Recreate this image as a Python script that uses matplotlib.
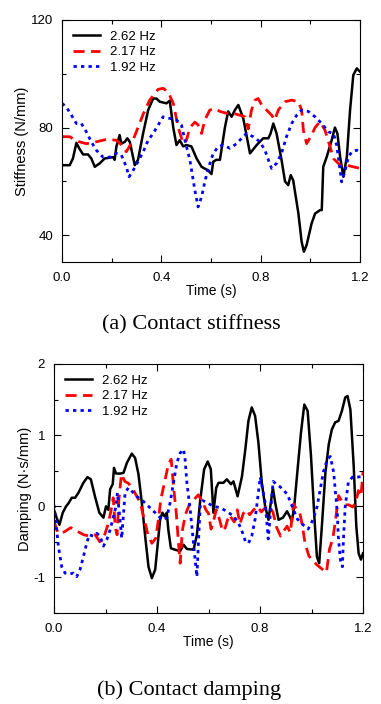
import numpy as np
import matplotlib
matplotlib.use('Agg')
import matplotlib.pyplot as plt
from matplotlib.ticker import MultipleLocator

plt.rcParams['font.family'] = ['Liberation Sans', 'DejaVu Sans']

# (a) contact stiffness, N/mm
stiff_t_262 = [0.000, 0.031, 0.044, 0.058, 0.071, 0.085, 0.105, 0.118, 0.132, 0.152, 0.172, 0.206, 0.212,
               0.219, 0.232, 0.239, 0.253, 0.263, 0.273, 0.293, 0.306, 0.327, 0.347, 0.367, 0.380, 0.394,
               0.421, 0.434, 0.448, 0.461, 0.474, 0.488, 0.501, 0.521, 0.542, 0.562, 0.589, 0.602, 0.609,
               0.622, 0.636, 0.656, 0.669, 0.683, 0.696, 0.710, 0.730, 0.757, 0.784, 0.810, 0.831, 0.840,
               0.851, 0.864, 0.884, 0.898, 0.911, 0.921, 0.931, 0.952, 0.965, 0.974, 0.985, 1.005, 1.019,
               1.039, 1.046, 1.052, 1.066, 1.086, 1.099, 1.109, 1.120, 1.133, 1.147, 1.160, 1.173, 1.187, 1.200]
stiff_262 = [66, 66, 68.5, 74.3, 72, 70, 70, 68.5, 65.4, 66.7, 68.5, 69, 68,
             72.9, 77.2, 74, 74.7, 76, 74.7, 66, 68, 78, 86.5, 90.8, 90.8, 89.6,
             89, 90, 80, 73.5, 75.3, 73, 73.5, 73, 68.5, 65.4, 64, 62.7, 67.3,
             68, 68, 80, 86, 84, 86.5, 88.4, 83.4, 70.4, 73.5, 76, 76, 77.8,
             81.5, 77.8, 68, 60, 58.6, 62.3, 60.4, 48, 37.5, 33.8, 36.3, 44.3, 48,
             49.3, 49.3, 65.4, 69.1, 75.3, 80, 77.8, 69.1, 61.7, 69.1, 86.5, 99.5, 102, 100.8]

stiff_t_217 = [0.000, 0.031, 0.058, 0.098, 0.138, 0.179, 0.219, 0.246, 0.259, 0.286, 0.306, 0.327, 0.353,
               0.387, 0.407, 0.427, 0.448, 0.468, 0.488, 0.501, 0.515, 0.535, 0.548, 0.562, 0.575, 0.595,
               0.616, 0.636, 0.663, 0.689, 0.716, 0.737, 0.750, 0.763, 0.777, 0.790, 0.804, 0.824, 0.844,
               0.857, 0.871, 0.898, 0.925, 0.952, 0.965, 0.972, 0.985, 1.005, 1.019, 1.039, 1.059, 1.079,
               1.093, 1.120, 1.147, 1.173, 1.200]
stiff_217 = [76.6, 76.6, 75, 74, 74.7, 75.6, 75.3, 73, 71, 75.3, 80, 85, 90.2,
             94.2, 94.6, 93.3, 89, 80.1, 74, 75.3, 80, 82, 81, 77.8, 82.8, 86.5,
             87.1, 86, 85.3, 85.3, 84.6, 84, 79.5, 86.5, 90.2, 90.8, 88.4, 86.5, 84.6,
             82.8, 86.5, 89.6, 90.2, 89.6, 86.5, 79, 74, 77.2, 80, 82.2, 79, 73,
             68.5, 66, 66, 65.4, 64.8]

stiff_t_192 = [0.000, 0.017, 0.038, 0.058, 0.078, 0.098, 0.118, 0.138, 0.165, 0.192, 0.219, 0.239, 0.259,
               0.270, 0.286, 0.306, 0.327, 0.347, 0.367, 0.387, 0.407, 0.434, 0.461, 0.481, 0.495, 0.515,
               0.535, 0.548, 0.562, 0.575, 0.589, 0.609, 0.629, 0.649, 0.676, 0.703, 0.723, 0.743, 0.770,
               0.797, 0.817, 0.831, 0.844, 0.864, 0.884, 0.904, 0.925, 0.945, 0.965, 0.992, 1.019, 1.046,
               1.073, 1.093, 1.106, 1.120, 1.126, 1.140, 1.153, 1.167, 1.187, 1.200]
stiff_192 = [89, 87.7, 84.6, 81.5, 81.5, 78.4, 74.7, 71.6, 69, 69, 70.4, 69.8, 65.4,
             61.7, 64, 67.3, 71, 75.3, 77.8, 80.9, 84, 83.4, 82.8, 80.9, 75.3, 67.9,
             56.7, 50.5, 54.2, 59.8, 64.8, 70.4, 72.9, 73.5, 72.3, 74, 76, 77.8, 76.6,
             74.7, 71.6, 68, 64.8, 66.7, 70.4, 76.6, 81.5, 84.6, 86.5, 86, 84, 81.5,
             78.4, 77.8, 73.5, 64, 59.8, 64, 69, 71, 71.6, 71]

# (b) contact damping, N*s/mm
damp_t_262 = [0.000, 0.010, 0.021, 0.034, 0.047, 0.056, 0.069, 0.082, 0.095, 0.114, 0.130, 0.143, 0.159,
              0.176, 0.192, 0.202, 0.211, 0.218, 0.228, 0.233, 0.241, 0.257, 0.270, 0.283, 0.302, 0.315,
              0.328, 0.341, 0.354, 0.367, 0.380, 0.393, 0.402, 0.412, 0.421, 0.429, 0.438, 0.444, 0.454,
              0.470, 0.490, 0.503, 0.516, 0.542, 0.555, 0.568, 0.583, 0.597, 0.609, 0.619, 0.630, 0.639,
              0.658, 0.671, 0.687, 0.697, 0.713, 0.730, 0.743, 0.755, 0.768, 0.781, 0.794, 0.807, 0.820,
              0.833, 0.842, 0.850, 0.859, 0.872, 0.889, 0.905, 0.915, 0.924, 0.933, 0.946, 0.959, 0.972,
              0.985, 0.998, 1.011, 1.021, 1.030, 1.041, 1.054, 1.067, 1.079, 1.092, 1.105, 1.118, 1.131,
              1.140, 1.151, 1.164, 1.174, 1.183, 1.192, 1.200]
damp_262 = [-0.05, -0.16, -0.26, -0.09, 0.0, 0.04, 0.12, 0.12, 0.19, 0.33, 0.41, 0.38, 0.14,
            -0.09, -0.16, 0.0, -0.05, 0.24, 0.31, 0.54, 0.46, 0.46, 0.47, 0.61, 0.74, 0.68,
            0.45, 0.05, -0.42, -0.85, -1.01, -0.89, -0.56, -0.19, -0.09, -0.14, -0.09, -0.33, -0.59,
            -0.61, -0.63, -0.54, -0.60, -0.61, -0.40, 0.09, 0.52, 0.63, 0.52, -0.09, 0.26, 0.33,
            0.33, 0.38, 0.31, 0.35, 0.14, 0.42, 0.80, 1.20, 1.39, 1.27, 0.89, 0.33, 0.0,
            -0.19, 0.05, 0.26, 0.05, -0.19, -0.16, -0.07, -0.14, -0.21, 0.0, 0.52, 1.03, 1.43,
            1.34, 0.71, -0.14, -0.71, -0.80, -0.24, 0.47, 0.87, 1.08, 1.18, 1.20, 1.34, 1.53,
            1.55, 1.36, 0.56, -0.28, -0.66, -0.75, -0.66]

damp_t_217 = [0.000, 0.016, 0.040, 0.065, 0.090, 0.115, 0.140, 0.160, 0.178, 0.195, 0.210, 0.222, 0.230,
              0.238, 0.245, 0.252, 0.262, 0.275, 0.290, 0.305, 0.320, 0.335, 0.350, 0.365, 0.380, 0.395,
              0.405, 0.415, 0.430, 0.445, 0.455, 0.465, 0.475, 0.483, 0.490, 0.498, 0.510, 0.525, 0.545,
              0.560, 0.575, 0.590, 0.600, 0.610, 0.620, 0.630, 0.640, 0.655, 0.665, 0.680, 0.700, 0.712,
              0.722, 0.735, 0.748, 0.760, 0.775, 0.790, 0.805, 0.820, 0.835, 0.850, 0.865, 0.880, 0.892,
              0.905, 0.918, 0.930, 0.942, 0.955, 0.965, 0.975, 0.990, 1.005, 1.020, 1.040, 1.058, 1.070,
              1.083, 1.093, 1.105, 1.118, 1.130, 1.145, 1.160, 1.172, 1.182, 1.192, 1.200]
damp_217 = [-0.21, -0.38, -0.36, -0.30, -0.35, -0.40, -0.42, -0.40, -0.50, -0.42, -0.25, -0.05, 0.12,
            -0.30, -0.40, 0.10, 0.45, 0.35, 0.32, 0.25, 0.15, 0.05, -0.18, -0.40, -0.52, -0.45,
            -0.20, 0.10, 0.35, 0.60, 0.66, 0.25, -0.10, -0.50, -0.80, -0.35, -0.12, 0.02, 0.10,
            0.16, 0.08, -0.05, -0.10, -0.32, -0.20, -0.05, -0.15, -0.35, -0.30, -0.12, -0.22, -0.05,
            -0.25, -0.10, -0.05, -0.12, -0.05, 0.00, -0.08, -0.02, 0.00, -0.08, -0.30, -0.42, -0.35,
            -0.28, -0.37, 0.03, -0.04, -0.10, -0.28, -0.52, -0.70, -0.76, -0.82, -0.88, -0.93, -0.60,
            -0.45, -0.20, 0.15, 0.07, 0.02, 0.02, -0.01, 0.05, 0.22, 0.14, 0.48]

damp_t_192 = [0.000, 0.008, 0.017, 0.030, 0.043, 0.062, 0.075, 0.088, 0.101, 0.114, 0.127, 0.137, 0.153,
              0.166, 0.179, 0.192, 0.205, 0.218, 0.231, 0.241, 0.246, 0.254, 0.263, 0.276, 0.289, 0.308,
              0.328, 0.347, 0.367, 0.380, 0.393, 0.412, 0.425, 0.438, 0.451, 0.464, 0.477, 0.490, 0.503,
              0.509, 0.516, 0.529, 0.539, 0.548, 0.555, 0.561, 0.568, 0.578, 0.594, 0.619, 0.645, 0.671,
              0.697, 0.717, 0.730, 0.743, 0.755, 0.768, 0.781, 0.801, 0.820, 0.832, 0.851, 0.879, 0.906,
              0.925, 0.945, 0.964, 0.987, 1.007, 1.022, 1.034, 1.046, 1.061, 1.073, 1.086, 1.092, 1.100,
              1.104, 1.112, 1.120, 1.124, 1.131, 1.143, 1.159, 1.178, 1.200]
damp_192 = [0.02, -0.24, -0.56, -0.85, -0.94, -0.95, -0.94, -0.99, -0.89, -0.71, -0.52, -0.40, -0.42,
            -0.38, -0.42, -0.56, -0.47, -0.33, -0.14, 0.0, 0.19, -0.10, -0.45, 0.19, 0.26, 0.19,
            0.12, 0.07, 0.0, -0.05, -0.09, -0.16, -0.19, -0.16, 0.05, 0.33, 0.61, 0.75, 0.80,
            0.66, 0.33, -0.05, -0.42, -0.75, -0.99, -0.50, 0.0, 0.08, 0.05, 0.0, -0.02, -0.07,
            -0.14, -0.24, -0.35, -0.49, -0.52, -0.42, -0.18, 0.41, 0.05, -0.46, 0.35, 0.27, 0.17,
            0.0, -0.18, -0.25, -0.32, -0.18, 0.0, 0.24, 0.48, 0.66, 0.70, 0.48, 0.24, -0.08,
            -0.42, -0.75, -0.85, -0.46, 0.0, 0.34, 0.41, 0.41, 0.42]

labels = ['2.62 Hz', '2.17 Hz', '1.92 Hz']

fig = plt.figure(figsize=(3.81, 7.04), dpi=100)
ax1 = fig.add_axes([62/381, 1-262/704, 298/381, 242/704])
ax2 = fig.add_axes([54/381, 1-613/704, 309/381, 249/704])


def draw(ax, series):
    styles = [dict(color='black', lw=1.8, ls='-'),
              dict(color='red', lw=2.0, ls=(0, (4.0, 2.3))),
              dict(color='blue', lw=2.0, ls=(0, (1.2, 1.5)))]
    for (t, v), lab, st in zip(series, labels, styles):
        ax.plot(t, v, label=lab, **st)
    ax.set_xlim(0, 1.2)
    ax.xaxis.set_major_locator(MultipleLocator(0.4))
    ax.xaxis.set_minor_locator(MultipleLocator(0.2))
    ax.tick_params(which='both', direction='in', top=True, right=True, labelsize=9.5, width=0.8)
    ax.tick_params(which='major', length=5)
    ax.tick_params(which='minor', length=3)
    ax.tick_params(axis='x', pad=7)
    ax.tick_params(axis='y', pad=6.5)
    ax.set_xlabel('Time (s)', fontsize=10, labelpad=0)
    ax.legend(loc='upper left', frameon=False, fontsize=9.5, handlelength=2.1,
              handletextpad=0.75, labelspacing=0.25, borderaxespad=0.4)


draw(ax1, [(stiff_t_262, stiff_262), (stiff_t_217, stiff_217), (stiff_t_192, stiff_192)])
ax1.set_ylim(30, 120)
ax1.yaxis.set_minor_locator(MultipleLocator(20))
ax1.set_yticks([40, 80, 120])
ax1.xaxis.set_major_formatter(plt.FuncFormatter(lambda x, p: '%.1f' % x))
ax1.set_ylabel('Stiffness (N/mm)', fontsize=10.5, labelpad=1)

draw(ax2, [(damp_t_262, damp_262), (damp_t_217, damp_217), (damp_t_192, damp_192)])
ax2.set_ylim(-1.5, 2)
ax2.yaxis.set_major_locator(MultipleLocator(1))
ax2.yaxis.set_minor_locator(MultipleLocator(0.5))
ax2.xaxis.set_major_formatter(plt.FuncFormatter(lambda x, p: '%.1f' % x))
ax2.yaxis.set_major_formatter(plt.FuncFormatter(lambda x, p: '%d' % round(x)))
ax2.set_ylabel('Damping (N\u00b7s/mm)', fontsize=10.5, labelpad=1)

fig.text(191/381, 1-325/704, '(a) Contact stiffness', ha='center', va='center',
         family='Liberation Serif', fontsize=16)
fig.text(189/381, 1-690/704, '(b) Contact damping', ha='center', va='center',
         family='Liberation Serif', fontsize=16)

fig.savefig('out.png', dpi=100)
